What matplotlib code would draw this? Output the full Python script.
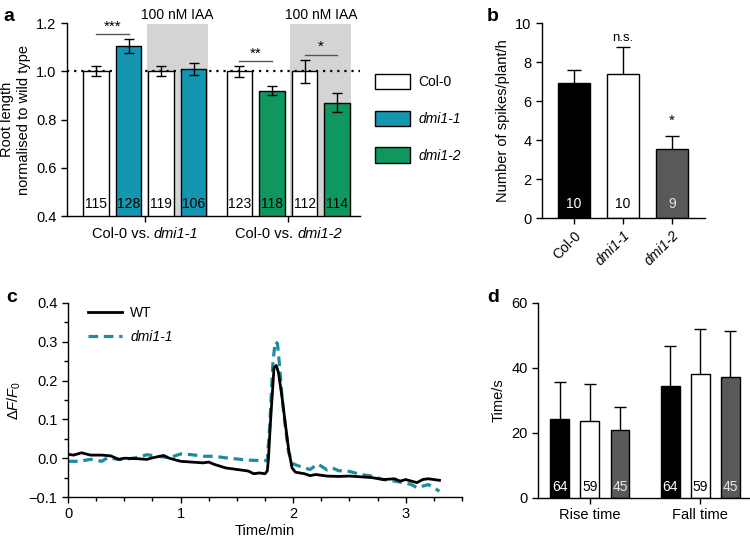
import matplotlib
matplotlib.use('Agg')
import matplotlib.pyplot as plt
from matplotlib.patches import Patch
from matplotlib import transforms

plt.rcParams['font.family'] = ['Liberation Sans', 'DejaVu Sans']
plt.rcParams['mathtext.fontset'] = 'custom'
plt.rcParams['mathtext.rm'] = 'Liberation Sans'
plt.rcParams['mathtext.it'] = 'Liberation Sans:italic'
plt.rcParams['font.size'] = 10
plt.rcParams['axes.linewidth'] = 1.0
plt.rcParams['xtick.major.size'] = 4
plt.rcParams['ytick.major.size'] = 4
plt.rcParams['xtick.minor.size'] = 3
plt.rcParams['ytick.minor.size'] = 3

# --- data ---
# a: root length (normalised)
a_pos = [0, 1, 2, 3, 4.4, 5.4, 6.4, 7.4]
a_vals = [1.0, 1.105, 1.0, 1.01, 1.0, 0.92, 1.0, 0.87]
a_err = [0.02, 0.03, 0.02, 0.025, 0.022, 0.02, 0.048, 0.04]
a_n = ['115', '128', '119', '106', '123', '118', '112', '114']
a_geno = ['Col-0', 'dmi1-1', 'Col-0', 'dmi1-1', 'Col-0', 'dmi1-2', 'Col-0', 'dmi1-2']
a_groups = [('Col-0 vs. ', 'dmi1-1'), ('Col-0 vs. ', 'dmi1-2')]

# b: spikes per plant per hour
b_labels = ['Col-0', 'dmi1-1', 'dmi1-2']
b_vals = [6.9, 7.4, 3.55]
b_err = [0.7, 1.35, 0.68]
b_n = ['10', '10', '9']

# c: calcium traces
c_t_wt = [0.0, 0.05, 0.12, 0.2, 0.3, 0.38, 0.45, 0.5, 0.6, 0.7, 0.75, 0.85, 0.9,
          1.0, 1.1, 1.2, 1.25, 1.3, 1.4, 1.5, 1.6, 1.65, 1.7, 1.75, 1.77, 1.78,
          1.8, 1.83, 1.85, 1.87, 1.9, 1.93, 1.96, 1.99, 2.02, 2.1, 2.15, 2.2, 2.3,
          2.4, 2.5, 2.6, 2.7, 2.8, 2.9, 2.95, 3.0, 3.05, 3.1, 3.15, 3.2, 3.3]
c_wt = [0.01, 0.008, 0.014, 0.008, 0.008, 0.006, -0.003, 0.0, -0.001, -0.003,
        0.001, 0.007, 0.0, -0.008, -0.01, -0.012, -0.01, -0.016, -0.025, -0.029,
        -0.033, -0.04, -0.038, -0.04, -0.033, -0.003, 0.1, 0.233, 0.239, 0.22,
        0.16, 0.09, 0.022, -0.025, -0.036, -0.04, -0.045, -0.042, -0.046, -0.047,
        -0.046, -0.048, -0.05, -0.055, -0.053, -0.059, -0.055, -0.059, -0.063,
        -0.055, -0.053, -0.057]
c_t_dmi = [0.0, 0.1, 0.2, 0.3, 0.35, 0.45, 0.5, 0.6, 0.7, 0.8, 0.9, 1.0, 1.1,
           1.2, 1.3, 1.4, 1.5, 1.6, 1.7, 1.77, 1.79, 1.82, 1.84, 1.86, 1.88, 1.9,
           1.93, 1.96, 2.0, 2.05, 2.1, 2.15, 2.22, 2.3, 2.35, 2.4, 2.5, 2.6, 2.7,
           2.8, 2.9, 3.0, 3.05, 3.1, 3.2, 3.3]
c_dmi = [-0.008, -0.008, -0.003, -0.008, 0.001, -0.003, -0.003, 0.001, 0.009,
         0.005, 0.001, 0.011, 0.009, 0.005, 0.005, 0.001, -0.002, -0.005, -0.006,
         -0.006, 0.074, 0.245, 0.3, 0.296, 0.237, 0.16, 0.082, 0.014, -0.015,
         -0.02, -0.025, -0.029, -0.015, -0.03, -0.025, -0.032, -0.034, -0.042,
         -0.046, -0.055, -0.059, -0.064, -0.068, -0.076, -0.068, -0.085]

# d: rise and fall times
d_pos = [0, 1, 2, 3.67, 4.67, 5.67]
d_vals = [24.3, 23.8, 20.8, 34.5, 38.1, 37.3]
d_err = [11.4, 11.2, 7.1, 12.4, 14.0, 14.0]
d_n = ['64', '59', '45', '64', '59', '45']
d_groups = ['Rise time', 'Fall time']

col_colors = {'Col-0': 'white', 'dmi1-1': '#1596b0', 'dmi1-2': '#10975f'}
bw_colors = ['black', 'white', '#595959']
bw_text = ['white', 'black', '#e6e6e6']
teal_line = '#1b8da0'

fig = plt.figure(figsize=(7.5, 5.43), dpi=100)


def clean(ax):
    ax.spines['top'].set_visible(False)
    ax.spines['right'].set_visible(False)
    ax.tick_params(direction='out', width=1.0)


# --- panel a ---
ax_a = ax = fig.add_axes([0.0893, 0.6022, 0.3907, 0.3554])
clean(ax)
w = 0.78
for lo, hi in [(a_pos[2], a_pos[3]), (a_pos[6], a_pos[7])]:
    ax.axvspan(lo - w / 2 - 0.06, hi + w / 2 + 0.04, ymin=0, ymax=0.995,
               color='#d4d4d4', lw=0, zorder=0)
    ax.text((lo + hi) / 2, 1.232, '100 nM IAA', ha='center', va='center',
            fontsize=10)
ax.axhline(1.0, color='black', lw=1.6, ls=(0, (1, 2.2)), zorder=1)
ax.bar(a_pos, a_vals, width=w, bottom=0,
       color=[col_colors[g] for g in a_geno], edgecolor='black', lw=1.0, zorder=2)
ax.errorbar(a_pos, a_vals, yerr=a_err, fmt='none', ecolor='black', elinewidth=1,
            capsize=3.5, capthick=1, zorder=3)
for x, n in zip(a_pos, a_n):
    ax.text(x, 0.448, n, ha='center', va='center', fontsize=10, zorder=4)

# significance bars
for x0, x1, y, s in [(a_pos[0], a_pos[1], 1.153, '***'),
                     (a_pos[4], a_pos[5], 1.041, '**'),
                     (a_pos[6], a_pos[7], 1.069, '*')]:
    ax.plot([x0, x1], [y, y], color='#555555', lw=1.0, zorder=3)
    ax.text((x0 + x1) / 2, y + 0.002, s, ha='center', va='bottom', fontsize=11)

ax.set_ylim(0.4, 1.2)
ax.set_xlim(-0.89, 8.1)
ax.set_yticks([0.4, 0.6, 0.8, 1.0, 1.2])
ax.set_yticklabels(['0.4', '0.6', '0.8', '1.0', '1.2'], fontsize=10.5)
a_ticks = [(a_pos[0] + a_pos[3]) / 2, (a_pos[4] + a_pos[7]) / 2]
ax.set_xticks(a_ticks)
ax.set_xticklabels(['', ''])
ax.set_ylabel('Root length\nnormalised to wild type', fontsize=10.5, labelpad=4)

# legend for a
handles = [Patch(facecolor=col_colors[k], edgecolor='black', lw=1.0)
           for k in ['Col-0', 'dmi1-1', 'dmi1-2']]
leg = fig.legend(handles, ['Col-0', 'dmi1-1', 'dmi1-2'], loc='upper left',
                 bbox_to_anchor=(0.491, 1 - 67 / 543), frameon=False, borderpad=0,
                 handlelength=2.5, handleheight=1.3, labelspacing=1.55,
                 handletextpad=0.6, fontsize=10)
for t in leg.get_texts()[1:]:
    t.set_fontstyle('italic')

# --- panel b ---
ax = fig.add_axes([0.7227, 0.5985, 0.2173, 0.3591])
clean(ax)
bx = list(range(len(b_labels)))
ax.bar(bx, b_vals, width=0.65, color=bw_colors, edgecolor='black', lw=1.0, zorder=2)
ax.errorbar(bx, b_vals, yerr=b_err, fmt='none', ecolor='black', elinewidth=1,
            capsize=5, capthick=1, zorder=1)
for x, n, c in zip(bx, b_n, bw_text):
    ax.text(x, 0.72, n, ha='center', va='center', color=c, fontsize=10, zorder=4)
ax.text(1, 9.25, 'n.s.', ha='center', va='center', fontsize=9.5)
ax.text(2, 5.0, '*', ha='center', va='center', fontsize=11)
ax.set_ylim(0, 10)
ax.set_xlim(-0.65, 2.67)
ax.set_yticks([0, 2, 4, 6, 8, 10])
ax.tick_params(axis='y', labelsize=10.5)
ax.set_xticks(bx)
ax.set_xticklabels(b_labels, rotation=45, ha='right', rotation_mode='anchor',
                   fontsize=10)
for t in ax.get_xticklabels()[1:]:
    t.set_fontstyle('italic')
ax.set_ylabel('Number of spikes/plant/h', fontsize=10.5)

# --- panel c ---
ax = fig.add_axes([0.0907, 0.0847, 0.5253, 0.3573])
clean(ax)
ax.plot(c_t_wt, c_wt, color='black', lw=2.0, label='WT', zorder=3)
ax.plot(c_t_dmi, c_dmi, color=teal_line, lw=2.3, ls=(0, (3, 1.8)),
        label='dmi1-1', zorder=2)
ax.set_xlim(0, 3.5)
ax.set_ylim(-0.1, 0.4)
ax.set_xticks([0, 1, 2, 3])
ax.set_xticks([0.25, 0.5, 0.75, 1.25, 1.5, 1.75, 2.25, 2.5, 2.75, 3.25, 3.5],
              minor=True)
ax.set_yticks([-0.1, 0.0, 0.1, 0.2, 0.3, 0.4])
ax.set_yticklabels(['\u22120.1', '0.0', '0.1', '0.2', '0.3', '0.4'])
ax.set_yticks([-0.05, 0.05, 0.15, 0.25, 0.35], minor=True)
ax.tick_params(which='both', labelsize=10.5, direction='out', width=1.0)
ax.set_xlabel('Time/min', fontsize=10.5, labelpad=2)
ax.set_ylabel('$\\Delta F/F_0$', fontsize=10.5)
lg = ax.legend(loc='upper left', bbox_to_anchor=(0.02, 1.05), frameon=False,
               handlelength=2.4, handletextpad=0.6, fontsize=10,
               labelspacing=0.75)
lg.get_texts()[1].set_fontstyle('italic')

# --- panel d ---
ax = fig.add_axes([0.7173, 0.0829, 0.2827, 0.3591])
clean(ax)
dc = bw_colors * 2
ax.bar(d_pos, d_vals, width=0.63, color=dc, edgecolor='black', lw=1.0, zorder=2)
ax.errorbar(d_pos, d_vals, yerr=d_err, fmt='none', ecolor='black', elinewidth=1,
            capsize=4, capthick=1, zorder=1)
for x, n, c in zip(d_pos, d_n, bw_text * 2):
    ax.text(x, 3.4, n, ha='center', va='center', color=c, fontsize=10, zorder=4)
ax.set_ylim(0, 60)
ax.set_xlim(-0.73, 6.33)
ax.set_yticks([0, 20, 40, 60])
ax.tick_params(axis='y', labelsize=10.5)
ax.set_xticks([1, 4.67])
ax.set_xticklabels(d_groups, fontsize=10.5)
ax.set_ylabel('Time/s', fontsize=10.5)

# panel letters
for x, y, s in [(0.004, 0.985, 'a'), (0.649, 0.985, 'b'),
                (0.008, 0.468, 'c'), (0.649, 0.468, 'd')]:
    fig.text(x, y, s, fontsize=14, fontweight='bold', va='top')

# group labels of panel a: roman + italic parts, centred together
fig.canvas.draw()
rend = fig.canvas.get_renderer()
lab_trans = transforms.blended_transform_factory(ax_a.transData, ax_a.transAxes)
for xc, (plain, ital) in zip(a_ticks, a_groups):
    t1 = ax_a.text(xc, -0.055, plain, ha='left', va='top', fontsize=10.5,
                   transform=lab_trans, clip_on=False)
    t2 = ax_a.text(xc, -0.055, ital, ha='left', va='top', fontsize=10.5,
                   style='italic', transform=lab_trans, clip_on=False)
    w1 = t1.get_window_extent(rend).width
    w2 = t2.get_window_extent(rend).width
    # text widths include a trailing space in w1, so shift in points
    shift1 = -(w1 + w2) / 2 * 72 / fig.dpi
    t1.set_transform(transforms.offset_copy(lab_trans, fig=fig, x=shift1, units='points'))
    t2.set_transform(transforms.offset_copy(lab_trans, fig=fig,
                                            x=shift1 + w1 * 72 / fig.dpi, units='points'))

fig.savefig('out.png', dpi=100)
